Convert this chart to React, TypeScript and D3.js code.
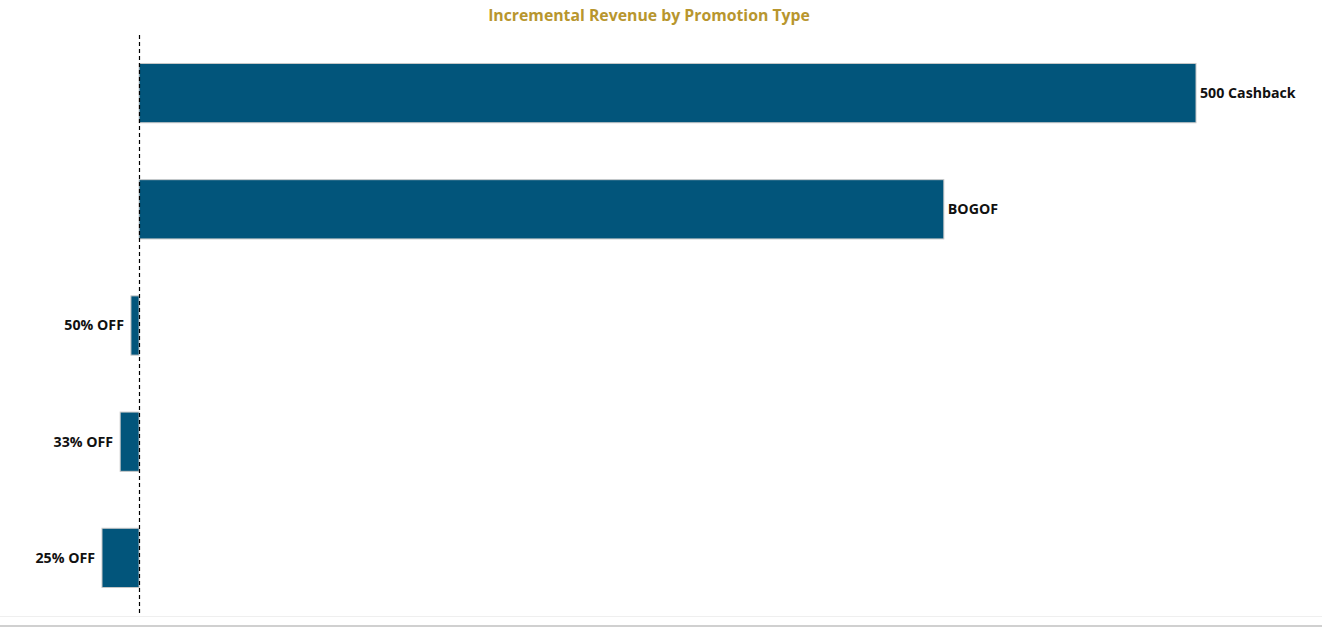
import React from "react";
import * as d3 from "d3";

const categories = ["500 Cashback", "BOGOF", "50% OFF", "33% OFF", "25% OFF"];
const revenue = [2850000, 2170000, -22000, -51000, -100000];
const title = "Incremental Revenue by Promotion Type";

const W = 1322;
const H = 628;

export default function App() {
  const x = d3.scaleLinear().domain([d3.min(revenue)!, d3.max(revenue)!]).range([102, 1196]);
  const y = d3.scaleBand<string>().domain(categories).range([35, 616]).paddingInner(0.49).paddingOuter(0.245);
  const x0 = Math.round(x(0)) + 0.5;
  const font = "'Open Sans', 'Noto Sans', sans-serif";
  return (
    <svg width={W} height={H} style={{ position: "absolute", left: 0, top: 0, display: "block" }} fontFamily={font}>
      <rect width={W} height={H} fill="#fff" />
      <text x={649} y={21} textAnchor="middle" fill="#b8962e" fontSize={15.8} fontWeight={700}>{title}</text>
      {categories.map((c, i) => {
        const v = revenue[i];
        const xa = x(Math.min(0, v));
        const xb = x(Math.max(0, v));
        const yy = y(c)!;
        const bw = y.bandwidth();
        return (
          <g key={c}>
            <rect x={xa} y={yy} width={xb - xa} height={bw} fill="#02557b" stroke="#c8c8c8" strokeWidth={1} />
            <text
              x={v >= 0 ? xb + 4 : xa - 7}
              y={yy + bw / 2}
              dy="0.35em"
              textAnchor={v >= 0 ? "start" : "end"}
              fontSize={14.2}
              fontWeight={700}
              fill="#111"
            >
              {c}
            </text>
          </g>
        );
      })}
      <line x1={x0} x2={x0} y1={35} y2={616} stroke="#000" strokeWidth={1.2} strokeDasharray="4,3" />
      <line x1={0} x2={W} y1={616.5} y2={616.5} stroke="#efefef" strokeWidth={1} />
      <line x1={0} x2={W} y1={626} y2={626} stroke="#d0d0d0" strokeWidth={2} />
    </svg>
  );
}
